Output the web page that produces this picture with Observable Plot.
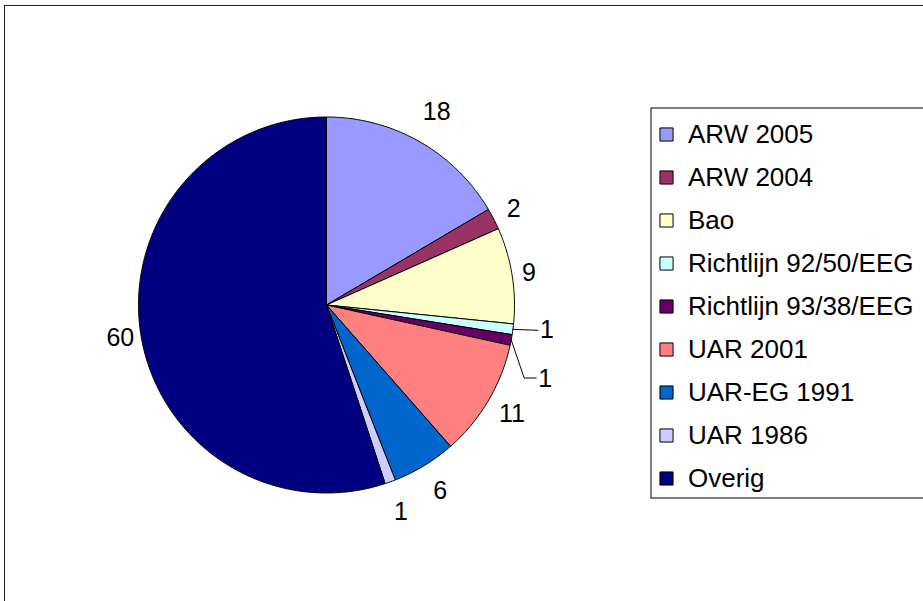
<!DOCTYPE html>
<html><head><meta charset="utf-8">
<script src="https://cdn.jsdelivr.net/npm/d3@7"></script>
<script src="https://cdn.jsdelivr.net/npm/@observablehq/plot@0.6"></script>
<style>
body{margin:0;background:#fff;font-family:"Liberation Sans",Arial,sans-serif;}
#wrap{position:relative;width:923px;height:601px;overflow:hidden;}
#frame{position:absolute;left:4px;top:5px;width:940px;height:620px;border-left:1.5px solid #222;border-top:1.5px solid #222;}
#pie,#legend{position:absolute;left:0;top:0;}
svg{overflow:visible;}
</style></head><body>
<div id="wrap"><div id="frame"></div><div id="pie"></div><div id="legend"></div></div>
<script>
const categories = ["ARW 2005","ARW 2004","Bao","Richtlijn 92/50/EEG","Richtlijn 93/38/EEG","UAR 2001","UAR-EG 1991","UAR 1986","Overig"];
const values = [18,2,9,1,1,11,6,1,60];
const colors = ["#9999FF","#993366","#FFFFCC","#CCFFFF","#660066","#FF8080","#0066CC","#CCCCFF","#000080"];
const labels = values.map(String);

const R = 188; // pie radius in px (1 data unit)
const arcs = d3.pie().sort(null).value(d => d)(values);

// slice polygons in unit-circle coordinates
const slices = [];
arcs.forEach((a, i) => {
  const n = Math.max(2, Math.ceil((a.endAngle - a.startAngle) / (Math.PI / 360)));
  slices.push({cat: categories[i], x: 0, y: 0});
  for (let k = 0; k <= n; k++) {
    const t = a.startAngle + (a.endAngle - a.startAngle) * k / n;
    slices.push({cat: categories[i], x: Math.sin(t), y: Math.cos(t)});
  }
  slices.push({cat: categories[i], x: 0, y: 0});
});

// callout (leader line) labels: pixel offsets from slice edge
const callouts = {
  3: {pts: [[0, 0], [25, 1]], lab: [27, 1]},
  4: {pts: [[0, 0], [13, 38], [25, 38]], lab: [27, 39]}
};
const plain = [], called = [], leaders = [];
arcs.forEach((a, i) => {
  const m = (a.startAngle + a.endAngle) / 2;
  const ex = Math.sin(m), ey = Math.cos(m);
  if (callouts[i]) {
    const c = callouts[i];
    c.pts.forEach(p => leaders.push({id: i, x: ex + p[0] / R, y: ey - p[1] / R}));
    called.push({t: labels[i], x: ex + c.lab[0] / R, y: ey - c.lab[1] / R});
  } else {
    const k = 1.075 + 0.1 * Math.abs(Math.cos(m)) + 0.02 * (labels[i].length - 1);
    plain.push({t: labels[i], x: k * ex, y: k * ey});
  }
});

const font = '"Liberation Sans", Arial, sans-serif';

const pie = Plot.plot({
  width: 923, height: 601,
  x: {domain: [-1, 1], range: [326 - R, 326 + R], axis: null},
  y: {domain: [-1, 1], range: [304.5 + R, 304.5 - R], axis: null},
  color: {domain: categories, range: colors},
  style: {background: "transparent", fontFamily: font},
  marks: [
    Plot.line(slices, {x: "x", y: "y", z: "cat", fill: "cat", stroke: "#000", strokeWidth: 1, strokeLinejoin: "round"}),
    Plot.line(leaders, {x: "x", y: "y", z: "id", stroke: "#000", strokeWidth: 1}),
    Plot.text(plain, {x: "x", y: "y", text: "t", fontSize: 25, fill: "#000", textAnchor: "middle"}),
    Plot.text(called, {x: "x", y: "y", text: "t", fontSize: 25, fill: "#000", textAnchor: "start"})
  ]
});
document.getElementById("pie").appendChild(pie);

const legend = Plot.plot({
  width: 923, height: 601,
  marginLeft: 650.5, marginTop: 107.5, marginBottom: 601 - 497.5, marginRight: -10,
  y: {type: "point", domain: categories, range: [133.5, 477.5], padding: 0, axis: null},
  color: {domain: categories, range: colors},
  style: {background: "transparent", fontFamily: font},
  marks: [
    Plot.frame({stroke: "#000", strokeWidth: 1}),
    Plot.dot(categories, {y: d => d, fill: d => d, symbol: "square", r: 7.4, stroke: "#000", strokeWidth: 1, frameAnchor: "left", dx: 15.5}),
    Plot.text(categories, {y: d => d, text: d => d, frameAnchor: "left", dx: 37, textAnchor: "start", fontSize: 26, fill: "#000"})
  ]
});
document.getElementById("legend").appendChild(legend);
</script>
</body></html>
